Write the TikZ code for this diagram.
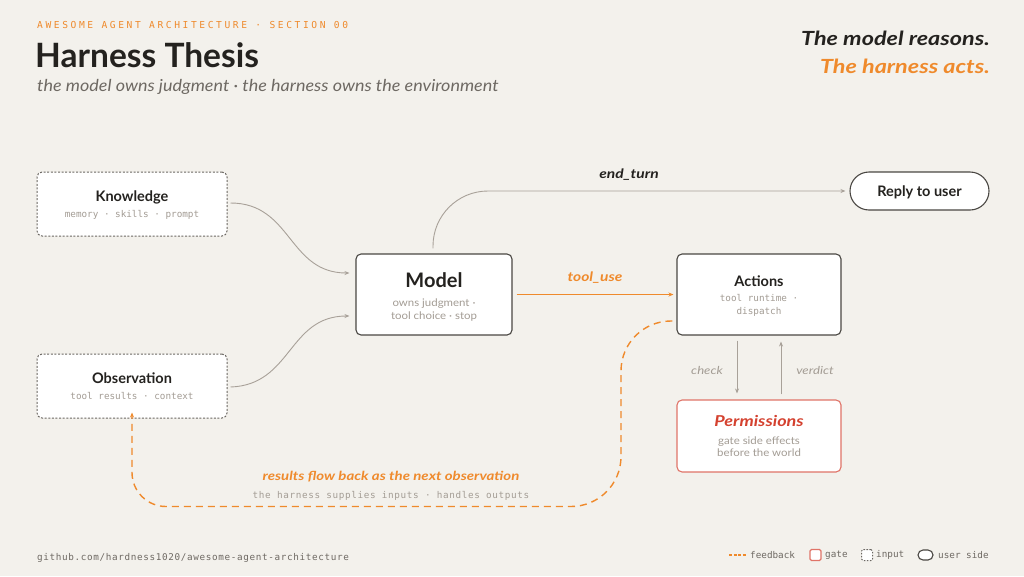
\documentclass[tikz,border=0pt]{standalone}
\usepackage{fontspec}
\setmainfont{Lato}
\newfontfamily\latow{Lato}[FakeStretch=1.09]
\newfontfamily\latobi{Lato}[FakeStretch=1.2]
\newfontfamily\mono{DejaVu Sans Mono}
\newfontfamily\monowide{DejaVu Sans Mono}[LetterSpace=27]
\newfontfamily\monols{DejaVu Sans Mono}[LetterSpace=7]
\usetikzlibrary{arrows.meta}
\definecolor{bg}{HTML}{F3F1EC}
\definecolor{ink}{HTML}{24221F}
\definecolor{orng}{HTML}{EF8A2C}
\definecolor{subgray}{HTML}{A39C94}
\definecolor{midgray}{HTML}{6E6963}
\definecolor{conncol}{HTML}{A8A199}
\definecolor{boxline}{HTML}{4A4743}
\definecolor{dashline}{HTML}{6B6762}
\definecolor{redtxt}{HTML}{D4412F}
\definecolor{redline}{HTML}{E07468}
\tikzset{
  box/.style={draw=boxline, line width=1.1pt, fill=white, rounded corners=5pt, inner sep=0pt},
  inbox/.style={draw=dashline, dash pattern=on 2pt off 1.6pt, line width=1pt, fill=white, rounded corners=5pt, inner sep=0pt},
  gatebox/.style={draw=redline, line width=1.1pt, fill=white, rounded corners=5pt, inner sep=0pt},
  pill/.style={draw=boxline, line width=1.1pt, fill=white, rounded corners=19pt, inner sep=0pt},
  conn/.style={draw=conncol, line width=0.9pt, -{Stealth[length=5pt,width=4pt]}},
  orconn/.style={draw=orng, line width=1.4pt, -{Stealth[length=5pt,width=4pt]}},
  fb/.style={draw=orng, line width=1.4pt, dash pattern=on 7pt off 5pt, -{Stealth[length=5pt,width=4pt]}},
  ttl/.style={anchor=base, inner sep=0pt, text=ink, font=\fontsize{14.5}{17}\selectfont\bfseries},
  subm/.style={anchor=base, inner sep=0pt, text=subgray, font=\mono\fontsize{9.3}{11}\selectfont},
  subs/.style={anchor=base, inner sep=0pt, text=subgray, font=\latow\fontsize{10.5}{12}\selectfont},
  elab/.style={anchor=base, inner sep=0pt, font=\latobi\fontsize{13}{15}\selectfont\bfseries\itshape},
  glab/.style={anchor=center, inner sep=0pt, text=subgray, font=\latobi\fontsize{11}{13}\selectfont\itshape},
  legtxt/.style={anchor=west, inner sep=0pt, text=midgray, font=\mono\fontsize{9.3}{11}\selectfont},
}
\begin{document}
\begin{tikzpicture}[x=1pt,y=-1pt]
\fill[bg] (0,0) rectangle (1024,576);
\useasboundingbox (0,0) rectangle (1024,576);

% header
\node[anchor=base west, inner sep=0pt, text=orng, font=\monowide\fontsize{9.6}{11}\selectfont] (hdr) at (37,28) {AWESOME AGENT ARCHITECTURE · SECTION 00};
\node[anchor=base west, inner sep=0pt, text=ink, font=\fontsize{33.5}{36}\selectfont\bfseries] (title) at (35,67) {Harness Thesis};
\node[anchor=base west, inner sep=0pt, text=midgray, font=\latow\fontsize{16.5}{19}\selectfont\itshape] (subt) at (37,91) {the model owns judgment · the harness owns the environment};
\node[anchor=base east, inner sep=0pt, text=ink, font=\latobi\fontsize{19.5}{22}\selectfont\bfseries\itshape] (tag1) at (990,45) {The model reasons.};
\node[anchor=base east, inner sep=0pt, text=orng, font=\latobi\fontsize{19.5}{22}\selectfont\bfseries\itshape] (tag2) at (990,73) {The harness acts.};

% boxes
\node[inbox, minimum width=190pt, minimum height=64pt] (K) at (132,204) {};
\node[inbox, minimum width=190pt, minimum height=64pt] (O) at (132,386) {};
\node[box, minimum width=156pt, minimum height=81pt] (M) at (434,294.5) {};
\node[box, minimum width=164pt, minimum height=81pt] (A) at (759,294.5) {};
\node[gatebox, minimum width=164pt, minimum height=72pt] (P) at (759,436) {};
\node[pill, minimum width=139pt, minimum height=38pt] (R) at (919.5,191) {};

% box texts
\node[ttl] (Kt) at (132,201) {Knowledge};
\node[subm] (Ks) at (132,217) {memory · skills · prompt};
\node[ttl] (Ot) at (132,383) {Observation};
\node[subm] (Os) at (132,399) {tool results · context};
\node[ttl, font=\fontsize{20}{22}\selectfont\bfseries] (Mt) at (434,287) {Model};
\node[subs] (Ms1) at (434,306.5) {owns judgment ·};
\node[subs] (Ms2) at (434,319.5) {tool choice · stop};
\node[ttl] (At) at (759,286) {Actions};
\node[subm] (As1) at (759,301.5) {tool runtime ·};
\node[subm] (As2) at (759,314) {dispatch};
\node[ttl] (Rt) at (919.5,196) {Reply to user};
\node[ttl, text=redtxt, font=\latobi\fontsize{15}{17}\selectfont\bfseries\itshape] (Pt) at (759,426.5) {Permissions};
\node[subs] (Ps1) at (759,444.3) {gate side effects};
\node[subs] (Ps2) at (759,456.7) {before the world};

% connectors
\draw[conn] ([yshift=1pt,xshift=3pt]K.east) .. controls (292,203) and (288,273) .. ([xshift=-6pt,yshift=21.5pt]M.west);
\draw[conn] ([yshift=-1pt,xshift=3pt]O.east) .. controls (292,385) and (288,316) .. ([xshift=-6pt,yshift=-21.5pt]M.west);
\draw[conn, rounded corners=55pt] ([yshift=5pt,xshift=-1pt]M.north) |- ([xshift=-4pt]R.west);
\node[elab, text=ink] (lend) at (629,178.3) {end\_turn};
\draw[orconn] ([xshift=4pt]M.east) -- ([xshift=-3pt]A.west);
\node[elab, text=orng] (ltool) at (595,281.7) {tool\_use};
\draw[conn] ([xshift=-22pt,yshift=-5pt]A.south) -- ([xshift=-22pt,yshift=6pt]P.north);
\draw[conn] ([xshift=22pt,yshift=5pt]P.north) -- ([xshift=22pt,yshift=-6pt]A.south);
\node[glab] (lcheck) at (707,370) {check};
\node[glab] (lverd) at (815,370) {verdict};

% feedback loop
\coordinate (fbA) at ([xshift=-4pt,yshift=-26.5pt]A.west);
\coordinate (fbBR) at (621,506.5);
\draw[fb, rounded corners=50pt] (fbA) -| (fbBR) [rounded corners=34pt] -| ([yshift=6pt]O.south);
\node[elab, text=orng, font=\latobi\fontsize{12.5}{15}\selectfont\bfseries\itshape] (lres) at (391,480.5) {results flow back as the next observation};
\node[subm, font=\monols\fontsize{9.3}{11}\selectfont] (lsup) at (391,498) {the harness supplies inputs · handles outputs};

% footer
\node[legtxt, font=\monols\fontsize{9.3}{11}\selectfont] (foot) at (37,558) {github.com/hardness1020/awesome-agent-architecture};

% legend
\coordinate (lg1a) at (729,555);
\coordinate (lg1b) at (746,555);
\draw[draw=orng, line width=1.2pt, dash pattern=on 3pt off 1.6pt] (lg1a) -- (lg1b);
\node[legtxt] (lgfb) at (750,555) {feedback};
\node[draw=redline, fill=white, line width=1.1pt, rounded corners=1.5pt, minimum size=11pt, inner sep=0pt] (lggate) at (815.5,555) {};
\node[legtxt] (lggt) at (825,555) {gate};
\node[draw=dashline, fill=white, line width=1pt, dash pattern=on 1.6pt off 1.4pt, rounded corners=1.5pt, minimum size=11pt, inner sep=0pt] (lgin) at (867,555) {};
\node[legtxt] (lgit) at (876,555) {input};
\node[draw=boxline, fill=white, line width=1.1pt, rounded corners=5pt, minimum width=15pt, minimum height=10pt, inner sep=0pt] (lgus) at (925.5,555) {};
\node[legtxt] (lgut) at (938,555) {user side};
\end{tikzpicture}
\end{document}
